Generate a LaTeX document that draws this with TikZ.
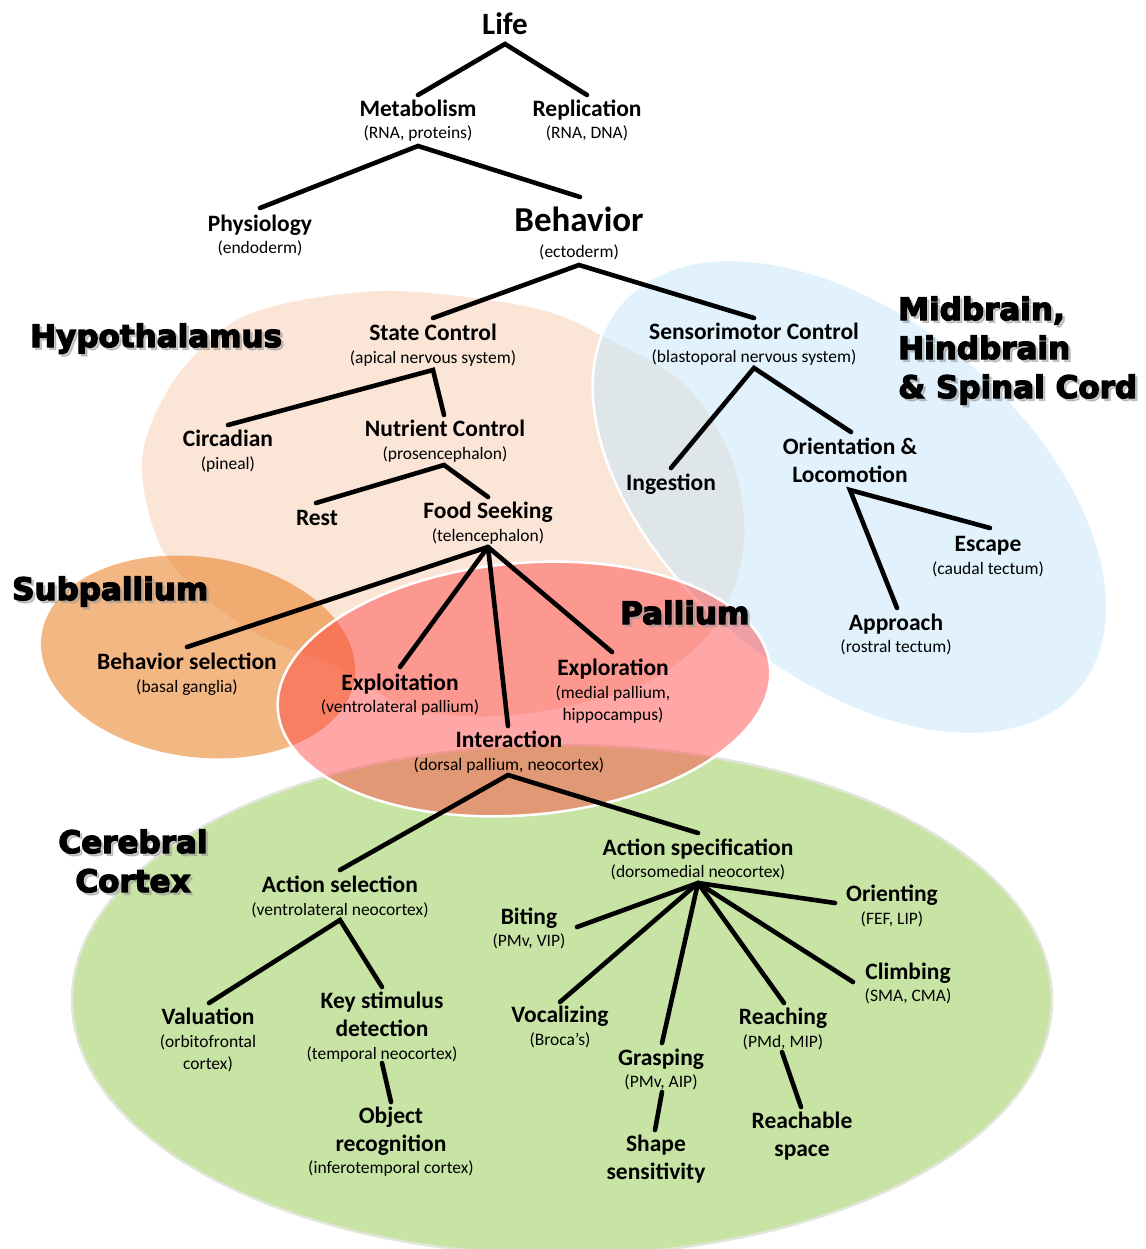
\documentclass[tikz,border=0pt]{standalone}
\usepackage{fontspec}
\setmainfont{Carlito}
\newfontfamily\regionfont{DejaVu Sans}[UprightFont={* Bold}]
\newcommand\heavytext[1]{\special{pdf:literal direct 2 Tr 1.3 w}#1\special{pdf:literal direct 0 Tr}}
\definecolor{cgreen}{RGB}{200,228,165}
\definecolor{cgreenedge}{RGB}{226,230,216}
\definecolor{cpeach}{RGB}{251,229,214}
\definecolor{cblue}{RGB}{200,232,252}
\definecolor{csub}{RGB}{233,123,30}
\definecolor{cpal}{RGB}{255,60,60}
\begin{document}
\begin{tikzpicture}[x=1pt,y=-1pt,
  ttl/.style={font=\fontsize{23.5}{28}\selectfont\bfseries, anchor=base, inner sep=0pt},
  subt/.style={font=\fontsize{17.5}{21}\selectfont, anchor=base, inner sep=0pt},
  conn/.style={line width=4.6pt, line cap=round, line join=miter, black},
  region/.style={font=\regionfont\fontsize{31}{36}\selectfont, anchor=base west, inner sep=0pt},
  regsh/.style={region, text=black!40, opacity=0.5}]
\useasboundingbox (0,0) rectangle (1145,1249);

% ---------- regions ----------
\fill[cgreen] (562,1000) ellipse [x radius=490, y radius=255];
\draw[cgreenedge, line width=2.5pt] (562,1000) ellipse [x radius=490, y radius=255];

\fill[cpeach] plot[smooth cycle, tension=0.6] coordinates {
  (142,463) (165,395) (205,345) (252,313) (334,295) (416,292) (538,309)
  (610,340) (683,383) (728,450) (744,517) (738,575) (712,630) (660,675)
  (603,698) (503,716) (410,708) (340,668) (263,637) (205,597) (160,545)};

\fill[cblue, opacity=0.55, rotate around={-40:(850,497)}] (850,497) ellipse [x radius=300, y radius=180];
\draw[white, line width=2.5pt, rotate around={-40:(850,497)}] (850,497) ellipse [x radius=300, y radius=180];

\fill[csub, opacity=0.55, rotate around={-8:(198,657)}] (198,657) ellipse [x radius=158, y radius=100];

\fill[cpal, opacity=0.45, rotate around={5:(524,689)}] (524,689) ellipse [x radius=247, y radius=126];
\draw[white, line width=2.5pt, rotate around={5:(524,689)}] (524,689) ellipse [x radius=247, y radius=126];

% ---------- region labels (with soft shadow) ----------
\node[regsh] (hypo-sh) at (32.5,349.5) {\heavytext{Hypothalamus}};
\node[region] (hypo) at (30,347) {\heavytext{Hypothalamus}};
\node[regsh] (mid1-sh) at (900.5,322.5) {\heavytext{Midbrain,}};
\node[region] (mid1) at (898,320) {\heavytext{Midbrain,}};
\node[regsh] (mid2-sh) at (900.5,361.5) {\heavytext{Hindbrain}};
\node[region] (mid2) at (898,359) {\heavytext{Hindbrain}};
\node[regsh] (mid3-sh) at (900.5,400.5) {\heavytext{\& Spinal Cord}};
\node[region] (mid3) at (898,398) {\heavytext{\& Spinal Cord}};
\node[regsh] (subp-sh) at (14.5,602.5) {\heavytext{Subpallium}};
\node[region] (subp) at (12,600) {\heavytext{Subpallium}};
\node[regsh] (pall-sh) at (622.5,626.5) {\heavytext{Pallium}};
\node[region] (pall) at (620,624) {\heavytext{Pallium}};
\node[regsh, anchor=base] (cer1-sh) at (135.5,855.5) {\heavytext{Cerebral}};
\node[region, anchor=base] (cer1) at (133,853) {\heavytext{Cerebral}};
\node[regsh, anchor=base] (cer2-sh) at (135.5,894.5) {\heavytext{Cortex}};
\node[region, anchor=base] (cer2) at (133,892) {\heavytext{Cortex}};

% ---------- text nodes ----------
\node[ttl, font=\fontsize{31}{36}\selectfont\bfseries] (life) at (505,35) {Life};
\node[ttl] (metab) at (418,116.5) {Metabolism};
\node[subt] (metab-s) at (418,139) {(RNA, proteins)};
\node[ttl] (repl) at (587,116.5) {Replication};
\node[subt] (repl-s) at (587,139) {(RNA, DNA)};
\node[ttl] (phys) at (260,231.5) {Physiology};
\node[subt] (phys-s) at (260,254) {(endoderm)};
\node[ttl, font=\fontsize{35}{40}\selectfont\bfseries] (behav) at (579,232) {Behavior};
\node[subt] (behav-s) at (579,258) {(ectoderm)};
\node[ttl] (state) at (433,340.5) {State Control};
\node[subt] (state-s) at (433,363) {(apical nervous system)};
\node[ttl] (senso) at (754,339.5) {Sensorimotor Control};
\node[subt] (senso-s) at (754,362) {(blastoporal nervous system)};
\node[ttl] (circ) at (228,446.5) {Circadian};
\node[subt] (circ-s) at (228,469) {(pineal)};
\node[ttl] (nutr) at (445,436.5) {Nutrient Control};
\node[subt] (nutr-s) at (445,459) {(prosencephalon)};
\node[ttl] (ingest) at (671,490.5) {Ingestion};
\node[ttl] (orient1) at (850,454.5) {Orientation \&};
\node[ttl] (orient2) at (850,482.5) {Locomotion};
\node[ttl] (rest) at (317,525.5) {Rest};
\node[ttl] (food) at (488,518.5) {Food Seeking};
\node[subt] (food-s) at (488,541) {(telencephalon)};
\node[ttl] (escape) at (988,551.5) {Escape};
\node[subt] (escape-s) at (988,574) {(caudal tectum)};
\node[ttl] (appr) at (896,630.5) {Approach};
\node[subt] (appr-s) at (896,652) {(rostral tectum)};
\node[ttl] (bsel) at (187,669.5) {Behavior selection};
\node[subt] (bsel-s) at (187,692) {(basal ganglia)};
\node[ttl] (exploit) at (400,690.5) {Exploitation};
\node[subt] (exploit-s) at (400,712) {(ventrolateral pallium)};
\node[ttl] (explor) at (613,675.5) {Exploration};
\node[subt] (explor-s1) at (613,698) {(medial pallium,};
\node[subt] (explor-s2) at (613,720) {hippocampus)};
\node[ttl] (interact) at (509,747.5) {Interaction};
\node[subt] (interact-s) at (509,770) {(dorsal pallium, neocortex)};
\node[ttl] (aspec) at (698,855.5) {Action specification};
\node[subt] (aspec-s) at (698,877) {(dorsomedial neocortex)};
\node[ttl] (asel) at (340,892.5) {Action selection};
\node[subt] (asel-s) at (340,915) {(ventrolateral neocortex)};
\node[ttl] (bite) at (529,924.5) {Biting};
\node[subt] (bite-s) at (529,946) {(PMv, VIP)};
\node[ttl] (orienting) at (892,901.5) {Orienting};
\node[subt] (orienting-s) at (892,924) {(FEF, LIP)};
\node[ttl] (climb) at (908,979.5) {Climbing};
\node[subt] (climb-s) at (908,1001) {(SMA, CMA)};
\node[ttl] (val) at (208,1024.5) {Valuation};
\node[subt] (val-s1) at (208,1047) {(orbitofrontal};
\node[subt] (val-s2) at (208,1069) {cortex)};
\node[ttl] (key1) at (382,1008.5) {Key stimulus};
\node[ttl] (key2) at (382,1036.5) {detection};
\node[subt] (key-s) at (382,1059) {(temporal neocortex)};
\node[ttl] (voc) at (560,1022.5) {Vocalizing};
\node[subt] (voc-s) at (560,1045) {(Broca’s)};
\node[ttl] (reach) at (783,1024.5) {Reaching};
\node[subt] (reach-s) at (783,1047) {(PMd, MIP)};
\node[ttl] (grasp) at (661,1065.5) {Grasping};
\node[subt] (grasp-s) at (661,1087) {(PMv, AIP)};
\node[ttl] (obj1) at (391,1123.5) {Object};
\node[ttl] (obj2) at (391,1151.5) {recognition};
\node[subt] (obj-s) at (391,1173) {(inferotemporal cortex)};
\node[ttl] (shape1) at (656,1151.5) {Shape};
\node[ttl] (shape2) at (656,1179.5) {sensitivity};
\node[ttl] (reachable1) at (802,1128.5) {Reachable};
\node[ttl] (reachable2) at (802,1156.5) {space};

% ---------- connector end points ----------
\coordinate (c-life-b) at (505,44);
\coordinate (c-metab-t) at (418,95);
\coordinate (c-repl-t) at (587,95);
\coordinate (c-metab-b) at (418,146);
\coordinate (c-phys-t) at (260,208);
\coordinate (c-behav-t) at (580,197);
\coordinate (c-behav-b) at (579,265);
\coordinate (c-state-t) at (433,318);
\coordinate (c-senso-t) at (754,318);
\coordinate (c-state-b) at (433,370);
\coordinate (c-circ-t) at (228,425);
\coordinate (c-nutr-t) at (444,415);
\coordinate (c-nutr-b) at (444,465);
\coordinate (c-rest-t) at (316,503);
\coordinate (c-food-t) at (488,497);
\coordinate (c-food-b) at (488,547);
\coordinate (c-bsel-t) at (187,647);
\coordinate (c-exploit-t) at (400,667);
\coordinate (c-interact-t) at (508,726);
\coordinate (c-explor-t) at (612,652);
\coordinate (c-senso-b) at (754,368);
\coordinate (c-ingest-t) at (671,468);
\coordinate (c-orient-t) at (851,432);
\coordinate (c-loco-b) at (850,490);
\coordinate (c-escape-t) at (990,528);
\coordinate (c-appr-t) at (897,608);
\coordinate (c-interact-b) at (508,775);
\coordinate (c-asel-t) at (340,870);
\coordinate (c-aspec-t) at (698,833);
\coordinate (c-asel-b) at (340,920);
\coordinate (c-val-t) at (209,1003);
\coordinate (c-key-t) at (382,987);
\coordinate (c-key-b) at (382,1063);
\coordinate (c-obj-t) at (391,1102);
\coordinate (c-aspec-b) at (698,883);
\coordinate (c-bite-e) at (577,927);
\coordinate (c-orienting-e) at (835,903);
\coordinate (c-voc-t) at (560,1002);
\coordinate (c-grasp-t) at (662,1043);
\coordinate (c-reach-t) at (784,1003);
\coordinate (c-climb-e) at (853,982);
\coordinate (c-grasp-b) at (662,1092);
\coordinate (c-shape-t) at (655,1130);
\coordinate (c-reach-b) at (782,1052);
\coordinate (c-reachable-t) at (801,1107);

% ---------- connectors ----------
\draw[conn] (c-metab-t) -- (c-life-b) -- (c-repl-t);
\draw[conn] (c-phys-t) -- (c-metab-b) -- (c-behav-t);
\draw[conn] (c-state-t) -- (c-behav-b) -- (c-senso-t);
\draw[conn] (c-circ-t) -- (c-state-b) -- (c-nutr-t);
\draw[conn] (c-rest-t) -- (c-nutr-b) -- (c-food-t);
\draw[conn] (c-food-b) -- (c-bsel-t);
\draw[conn] (c-food-b) -- (c-exploit-t);
\draw[conn] (c-food-b) -- (c-interact-t);
\draw[conn] (c-food-b) -- (c-explor-t);
\draw[conn] (c-ingest-t) -- (c-senso-b) -- (c-orient-t);
\draw[conn] (c-appr-t) -- (c-loco-b) -- (c-escape-t);
\draw[conn] (c-asel-t) -- (c-interact-b) -- (c-aspec-t);
\draw[conn] (c-val-t) -- (c-asel-b) -- (c-key-t);
\draw[conn] (c-key-b) -- (c-obj-t);
\draw[conn] (c-aspec-b) -- (c-bite-e);
\draw[conn] (c-aspec-b) -- (c-orienting-e);
\draw[conn] (c-aspec-b) -- (c-voc-t);
\draw[conn] (c-aspec-b) -- (c-grasp-t);
\draw[conn] (c-aspec-b) -- (c-reach-t);
\draw[conn] (c-aspec-b) -- (c-climb-e);
\draw[conn] (c-grasp-b) -- (c-shape-t);
\draw[conn] (c-reach-b) -- (c-reachable-t);
\end{tikzpicture}
\end{document}
